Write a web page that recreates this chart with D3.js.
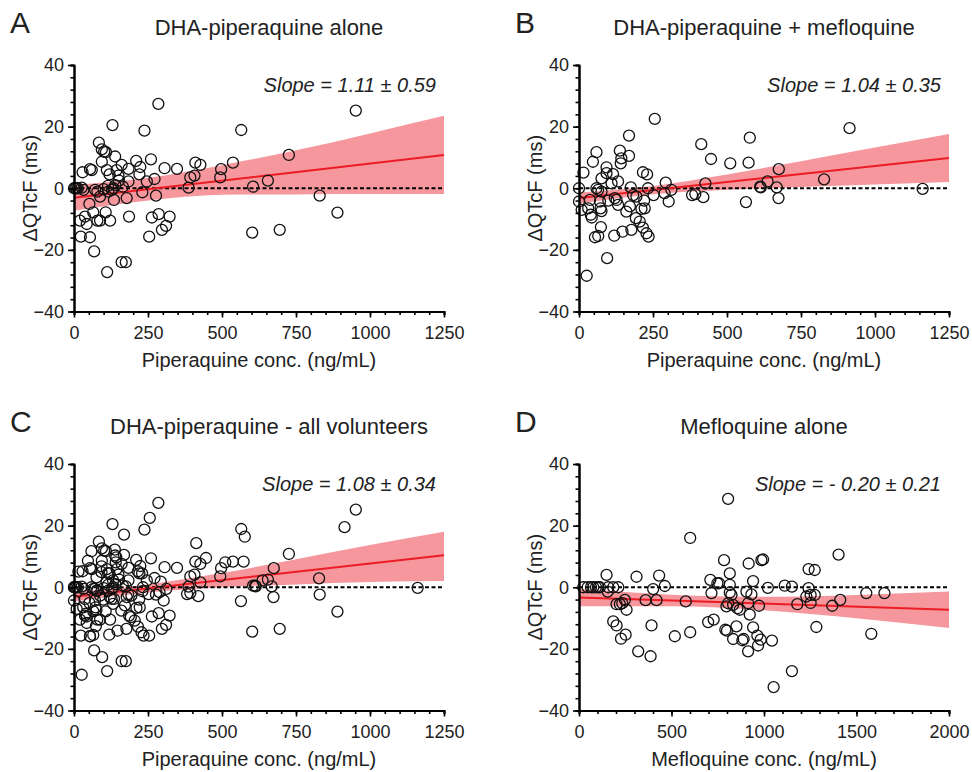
<!DOCTYPE html>
<html>
<head>
<meta charset="utf-8">
<script src="https://cdn.jsdelivr.net/npm/d3@7"></script>
<style>
  body { margin: 0; background: #fff; }
  svg { display: block; font-family: "Liberation Sans", Arial, sans-serif; }
</style>
</head>
<body>
<div id="vis"></div>
<script>
// ---------------------------------------------------------------
// Data (conc. in ng/mL, dQTcF in ms)
// ---------------------------------------------------------------
const PIP_TICKS = [0, 250, 500, 750, 1000, 1250];
const MEF_TICKS = [0, 500, 1000, 1500, 2000];
const Y_TICKS = [-40, -20, 0, 20, 40];

const LETTERS = ["A", "B", "C", "D"];
const TITLES = ["DHA-piperaquine alone", "DHA-piperaquine + mefloquine",
                "DHA-piperaquine - all volunteers", "Mefloquine alone"];
const SLOPES = ["Slope = 1.11 \u00b1 0.59", "Slope = 1.04 \u00b1 0.35",
                "Slope = 1.08 \u00b1 0.34", "Slope = - 0.20 \u00b1 0.21"];
const X_LABELS = ["Piperaquine conc. (ng/mL)", "Piperaquine conc. (ng/mL)",
                  "Piperaquine conc. (ng/mL)", "Mefloquine conc. (ng/mL)"];

// panel A: DHA-piperaquine alone
const ALONE_PTS = [
  [285,27.4],[130,20.5],[238,18.7],[84,14.8],[94,12.6],[102,11.9],[108,11.7],[139,10.3],
  [94,8.6],[210,8.9],[260,9.4],[161,7.6],[224,6.9],[306,6.5],[348,6.3],[54,6.2],[60,5.9],
  [29,5.2],[111,5.9],[144,5.9],[184,6.3],[120,4.5],[150,4.1],[221,4.5],[272,3.0],[184,2.2],
  [246,2.2],[410,8.3],[427,7.6],[393,3.5],[407,4.1],[387,0.2],[497,6.2],[494,3.5],[537,8.3],
  [565,18.9],[605,0.5],[602,-14.4],[0,0],[4,0],[8,0],[13,0],[26,0.2],[32,-0.5],[71,-0.5],
  [79,-1.1],[88,-2.7],[116,-1.1],[128,-0.5],[133,0],[135,-3.8],[178,-3.2],[231,-1.3],
  [277,-2.4],[52,-5.1],[65,-7.8],[107,-7.8],[20,-10.5],[37,-9.2],[43,-11.6],[79,-10.5],
  [88,-10.5],[122,-10.5],[186,-9.2],[263,-9.5],[286,-8.4],[297,-13.5],[311,-12.2],[323,-9.2],
  [23,-15.7],[54,-15.9],[254,-15.7],[68,-20.5],[161,-24],[175,-24],[112,-27.2],[952,25.2],
  [726,10.8],[655,2.5],[830,-2.4],[890,-7.9],[695,-13.5],[140,1.0],[152,2.5],[165,0.5],
  [100,-0.3],[115,0.8]
];

// panel B: DHA-piperaquine + mefloquine
const COMBO_PTS = [
  [256,22.5],[169,17.1],[59,11.7],[47,8.6],[138,12.2],[143,9.7],[141,8.1],[169,10.5],[93,6.8],
  [15,5.1],[93,4.9],[115,4.6],[76,3.2],[132,2.2],[110,1.6],[216,5.2],[230,4.5],[175,0.3],
  [233,0],[293,1.8],[312,-0.5],[289,-1.6],[252,-2.2],[303,-4.3],[382,-2.2],[393,-1.9],
  [420,-2.9],[427,1.6],[413,14.3],[446,9.5],[511,8.1],[577,16.4],[573,8.3],[564,-4.5],
  [614,0.3],[0,0],[0,-4.3],[9,-7.0],[37,-3.8],[31,-6.5],[40,-8.6],[43,-9.5],[59,0],[65,-0.5],
  [76,-1.1],[71,-4.3],[73,-6.5],[76,-7.4],[99,-4.0],[121,-3.2],[127,-3.8],[132,-5.4],
  [160,-7.6],[172,-5.9],[183,-2.2],[194,-2.7],[220,-4.0],[211,-6.7],[222,-6.5],[192,-9.7],
  [205,-10.8],[216,-12.8],[228,-14.6],[235,-15.7],[177,-13.5],[147,-14.1],[119,-15.4],
  [74,-12.6],[54,-15.9],[65,-15.5],[95,-22.7],[26,-28.4],[914,19.5],[675,6.2],[637,2.2],
  [612,0.5],[668,0.3],[674,-3.2],[828,2.9],[1161,-0.2]
];

// panel C: all volunteers = A + B
const ALL_PTS = ALONE_PTS.concat(COMBO_PTS);

// panel D: mefloquine alone
const MEF_PTS = [
  [806,28.7],[601,16.0],[784,8.8],[917,7.7],[986,8.8],[149,4.0],[311,3.4],[433,3.8],[464,0.4],
  [401,-0.6],[710,2.4],[748,1.3],[757,1.3],[815,4.5],[941,2.0],[815,0.8],[716,-1.9],[815,-1.7],
  [824,-2.5],[905,-1.4],[932,-2.3],[23,0],[47,0],[65,0],[77,0],[92,0],[104,0],[113,0],[158,0],
  [185,0],[212,0],[155,-1.4],[203,-5.5],[221,-5.5],[234,-5.2],[248,-4.1],[257,-7.3],[360,-4.2],
  [419,-4.2],[577,-4.6],[185,-11.1],[203,-12.4],[227,-16.7],[252,-15.4],[392,-12.4],[320,-20.8],
  [387,-22.4],[518,-15.9],[601,-14.6],[698,-11.3],[728,-10.5],[797,-6.2],[806,-5.2],[833,-5.7],
  [856,-6.8],[869,-7.3],[914,-5.2],[973,-6.0],[923,-8.9],[791,-13.8],[800,-14.1],[833,-16.8],
  [883,-17.2],[890,-16.8],[851,-12.7],[941,-13.0],[964,-15.7],[968,-18.9],[914,-20.8],[995,9.0],
  [1021,-0.2],[982,-17],[1043,-17.3],[1052,-32.4],[1151,-27.2],[1112,0.5],[1151,0.2],[1180,-5.5],
  [1241,5.9],[1274,5.6],[1241,-0.3],[1229,-3.0],[1252,-2.5],[1274,-2.5],[1252,-5.1],[1283,-12.9],
  [1369,-6.0],[1412,-4.1],[1403,10.6],[1553,-1.9],[1651,-1.9],[1580,-15.1]
];

// fitted regression lines (end points) and 95% CI bands [x, lower, upper]
const FIT_A = [[0, -3.1], [1250, 10.8]];
const FIT_B = [[0, -3.2], [1250, 9.8]];
const FIT_C = [[0, -3.1], [1250, 10.4]];
const FIT_D = [[0, -3.3], [2000, -7.3]];

const BAND_A = [[0,-7.3,1.1],[250,-4.0,3.4],[500,-2.1,7.5],[750,-2.0,12.3],[1000,-1.9,17.8],[1250,-1.9,23.5]];
const BAND_B = [[0,-5.0,-1.4],[250,-1.95,0.75],[500,-0.5,4.5],[750,0.4,8.8],[1000,1.2,13.2],[1250,2.0,17.6]];
const BAND_C = [[0,-4.6,-1.6],[250,-1.7,0.9],[500,0.0,4.6],[750,0.9,9.1],[1000,1.7,13.7],[1250,2.0,18.0]];
const BAND_D = [[0,-6.2,-0.6],[500,-6.2,-2.4],[1000,-7.5,-3.1],[1500,-10.1,-2.5],[2000,-13.2,-1.4]];

// ---------------------------------------------------------------
// Frame
// ---------------------------------------------------------------
const FRAME_WIDTH = 972;
const FRAME_HEIGHT = 772;
const PLOT_W = 370;
const PLOT_H = 246.5;
const FONT = "'Liberation Sans', Arial, sans-serif";

const FRAME = d3.select("#vis")
  .append("svg")
    .attr("width", FRAME_WIDTH)
    .attr("height", FRAME_HEIGHT);

const PANELS = [
  { left: 74,  top: 65,  pts: ALONE_PTS, fit: FIT_A, band: BAND_A, xTicks: PIP_TICKS, minor: 50,  titleDx: 10 },
  { left: 579, top: 65,  pts: COMBO_PTS, fit: FIT_B, band: BAND_B, xTicks: PIP_TICKS, minor: 50,  titleDx: 0 },
  { left: 74,  top: 464, pts: ALL_PTS,   fit: FIT_C, band: BAND_C, xTicks: PIP_TICKS, minor: 50,  titleDx: 10 },
  { left: 579, top: 464, pts: MEF_PTS,   fit: FIT_D, band: BAND_D, xTicks: MEF_TICKS, minor: 100, titleDx: 0 }
];

function style_axis(g, width) {
  g.attr("font-size", null).attr("font-family", null);
  g.select(".domain").attr("stroke", "#000").attr("stroke-width", width);
  g.selectAll(".tick line").attr("stroke", "#000").attr("stroke-width", 1.6);
  g.selectAll(".tick text")
    .attr("fill", "#222")
    .style("font-size", "18px")
    .style("font-family", FONT);
}

function build_panel(p, i) {
  const xMax = p.xTicks[p.xTicks.length - 1];
  const X_SCALE = d3.scaleLinear().domain([0, xMax]).range([0, PLOT_W]);
  const Y_SCALE = d3.scaleLinear().domain([-40, 40]).range([PLOT_H, 0]);

  const G = FRAME.append("g")
    .attr("transform", "translate(" + p.left + "," + p.top + ")");

  // CI band
  G.append("path")
    .datum(p.band)
    .attr("fill", "#f5979c")
    .attr("d", d3.area()
      .curve(d3.curveMonotoneX)
      .x((d) => X_SCALE(d[0]))
      .y0((d) => Y_SCALE(d[1]))
      .y1((d) => Y_SCALE(d[2])));

  // zero reference line
  G.append("line")
    .attr("x1", X_SCALE(0)).attr("x2", X_SCALE(xMax))
    .attr("y1", Y_SCALE(0)).attr("y2", Y_SCALE(0))
    .attr("stroke", "#000")
    .attr("stroke-width", 1.8)
    .attr("stroke-dasharray", "4,2.5");

  // regression line
  G.append("path")
    .datum(p.fit)
    .attr("fill", "none")
    .attr("stroke", "#ec1c24")
    .attr("stroke-width", 2)
    .attr("d", d3.line().x((d) => X_SCALE(d[0])).y((d) => Y_SCALE(d[1])));

  // points
  G.selectAll("circle")
    .data(p.pts)
    .enter()
    .append("circle")
      .attr("cx", (d) => X_SCALE(d[0]))
      .attr("cy", (d) => Y_SCALE(d[1]))
      .attr("r", 5.5)
      .attr("fill", "none")
      .attr("stroke", "#111")
      .attr("stroke-width", 1.3);

  // minor ticks first, then major axes
  G.append("g")
    .call(d3.axisLeft(Y_SCALE).tickValues(d3.range(-40, 41, 4)).tickSize(3.5).tickFormat(""))
    .call((g) => style_axis(g, 2));
  G.append("g")
    .attr("transform", "translate(0," + PLOT_H + ")")
    .call(d3.axisBottom(X_SCALE).tickValues(d3.range(0, xMax + 1, p.minor)).tickSize(3.5).tickFormat(""))
    .call((g) => style_axis(g, 2));

  G.append("g")
    .call(d3.axisLeft(Y_SCALE).tickValues(Y_TICKS).tickSize(6).tickSizeOuter(0).tickPadding(4)
            .tickFormat(d3.format("d")))
    .call((g) => style_axis(g, 2));
  G.append("g")
    .attr("transform", "translate(0," + PLOT_H + ")")
    .call(d3.axisBottom(X_SCALE).tickValues(p.xTicks).tickSize(6).tickSizeOuter(0).tickPadding(9)
            .tickFormat(d3.format("d")))
    .call((g) => style_axis(g, 2));

  // slope annotation
  G.append("text")
    .attr("x", PLOT_W - 8)
    .attr("y", 27)
    .attr("text-anchor", "end")
    .style("font-family", FONT)
    .style("font-size", "20px")
    .style("font-style", "italic")
    .attr("fill", "#222")
    .text(SLOPES[i]);

  // titles and labels
  G.append("text")
    .attr("x", PLOT_W / 2 + p.titleDx)
    .attr("y", -30)
    .attr("text-anchor", "middle")
    .style("font-family", FONT)
    .style("font-size", "22px")
    .attr("fill", "#222")
    .text(TITLES[i]);

  G.append("text")
    .attr("x", -64)
    .attr("y", -32)
    .style("font-family", FONT)
    .style("font-size", "30px")
    .attr("fill", "#222")
    .text(LETTERS[i]);

  G.append("text")
    .attr("x", PLOT_W / 2)
    .attr("y", PLOT_H + 55)
    .attr("text-anchor", "middle")
    .style("font-family", FONT)
    .style("font-size", "20px")
    .attr("fill", "#222")
    .text(X_LABELS[i]);

  G.append("text")
    .attr("transform", "translate(-37," + (PLOT_H / 2) + ") rotate(-90)")
    .attr("text-anchor", "middle")
    .style("font-family", FONT)
    .style("font-size", "20px")
    .attr("fill", "#222")
    .text("\u0394QTcF (ms)");
}

PANELS.forEach(build_panel);
</script>
</body>
</html>
